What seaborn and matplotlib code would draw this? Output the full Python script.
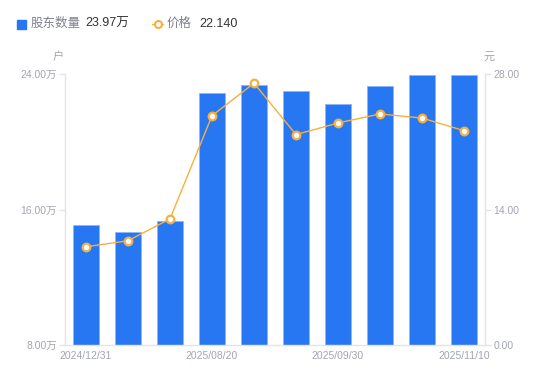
import numpy as np
import matplotlib
matplotlib.use('Agg')
import matplotlib.pyplot as plt
from matplotlib.lines import Line2D
from matplotlib.patches import Rectangle
import seaborn as sns

# data
dates = ['2024/12/31', '2025/03/31', '2025/06/30', '2025/08/20', '2025/08/31',
         '2025/09/10', '2025/09/30', '2025/10/20', '2025/10/31', '2025/11/10']
holders = [15.08, 14.68, 15.33, 22.87, 23.34, 22.99, 22.22, 23.28, 23.93, 23.97]  # 万户
price = [10.15, 10.77, 13.03, 23.69, 27.05, 21.74, 22.94, 23.87, 23.45, 22.14]  # 元
shown_ticks = [0, 3, 6, 9]

left_ticks = [8, 16, 24]
right_ticks = [0, 14, 28]

bar_color = '#2777F2'
line_color = '#F8B03C'
grey = '#A3A5B0'
axis_grey = '#E3E4E8'

sns.set_theme(style='white')
plt.rcParams['font.family'] = ['Liberation Sans', 'Noto Sans CJK SC', 'DejaVu Sans']

fig = plt.figure(figsize=(5.5, 3.81), dpi=100)
ax = fig.add_axes([65 / 550, 36 / 381, 420 / 550, 271 / 381])

sns.barplot(x=dates, y=holders, color=bar_color, saturation=1, width=0.6,
            edgecolor='#8DB6F7', linewidth=0.6, ax=ax)
ax.set_ylim(8, 24)
ax.set_yticks(left_ticks)
ax.set_yticklabels([f'{v:.2f}万' for v in left_ticks])

ax2 = ax.twinx()
sns.lineplot(x=np.arange(len(price)), y=price, ax=ax2, color=line_color,
             linewidth=1, marker='o', markersize=5.5, markerfacecolor='white',
             markeredgecolor=line_color, markeredgewidth=1.6)
ax2.set_ylim(0, 28)
ax2.set_yticks(right_ticks)
ax2.set_yticklabels([f'{v:.2f}' for v in right_ticks])

ax.set_xlim(-0.5, len(dates) - 0.5)
ax.set_xticks(shown_ticks)
ax.set_xticklabels([dates[i] for i in shown_ticks])

for a in (ax, ax2):
    a.set_xlabel('')
    a.set_ylabel('')
    for s in a.spines.values():
        s.set_color(axis_grey)
        s.set_linewidth(1)
    a.spines['top'].set_visible(False)
    a.tick_params(axis='y', colors=axis_grey, labelcolor=grey, labelsize=7.5,
                  length=4, width=1, pad=2)
ax.spines['right'].set_visible(False)
ax2.spines['left'].set_visible(False)
ax2.spines['bottom'].set_visible(False)
ax.tick_params(axis='x', colors=axis_grey, labelcolor=grey, labelsize=7.5,
               length=0, pad=4)

# unit labels
fig.text(58 / 550, 1 - 57 / 381, '户', color=grey, fontsize=8, ha='center', va='center')
fig.text(489 / 550, 1 - 57 / 381, '元', color=grey, fontsize=8, ha='center', va='center')

# legend row
ly = 1 - 24 / 381
fig.add_artist(Rectangle((17 / 550, ly - 4.5 / 381), 9 / 550, 9 / 381,
                         transform=fig.transFigure, color=bar_color))
fig.text(31 / 550, ly, '股东数量', color='#7D808C', fontsize=9, va='center')
fig.text(85 / 550, ly, '23.97万', color='#333333', fontsize=9, va='center')
fig.add_artist(Line2D([152 / 550, 163 / 550], [ly, ly], transform=fig.transFigure,
                      color=line_color, linewidth=1))
fig.add_artist(Line2D([157.5 / 550], [ly], transform=fig.transFigure, marker='o',
                      markersize=5, markerfacecolor='white', markeredgecolor=line_color,
                      markeredgewidth=1.5))
fig.text(167 / 550, ly, '价格', color='#7D808C', fontsize=9, va='center')
fig.text(199 / 550, ly, '22.140', color='#333333', fontsize=9, va='center')

fig.savefig('out.png', dpi=100)
